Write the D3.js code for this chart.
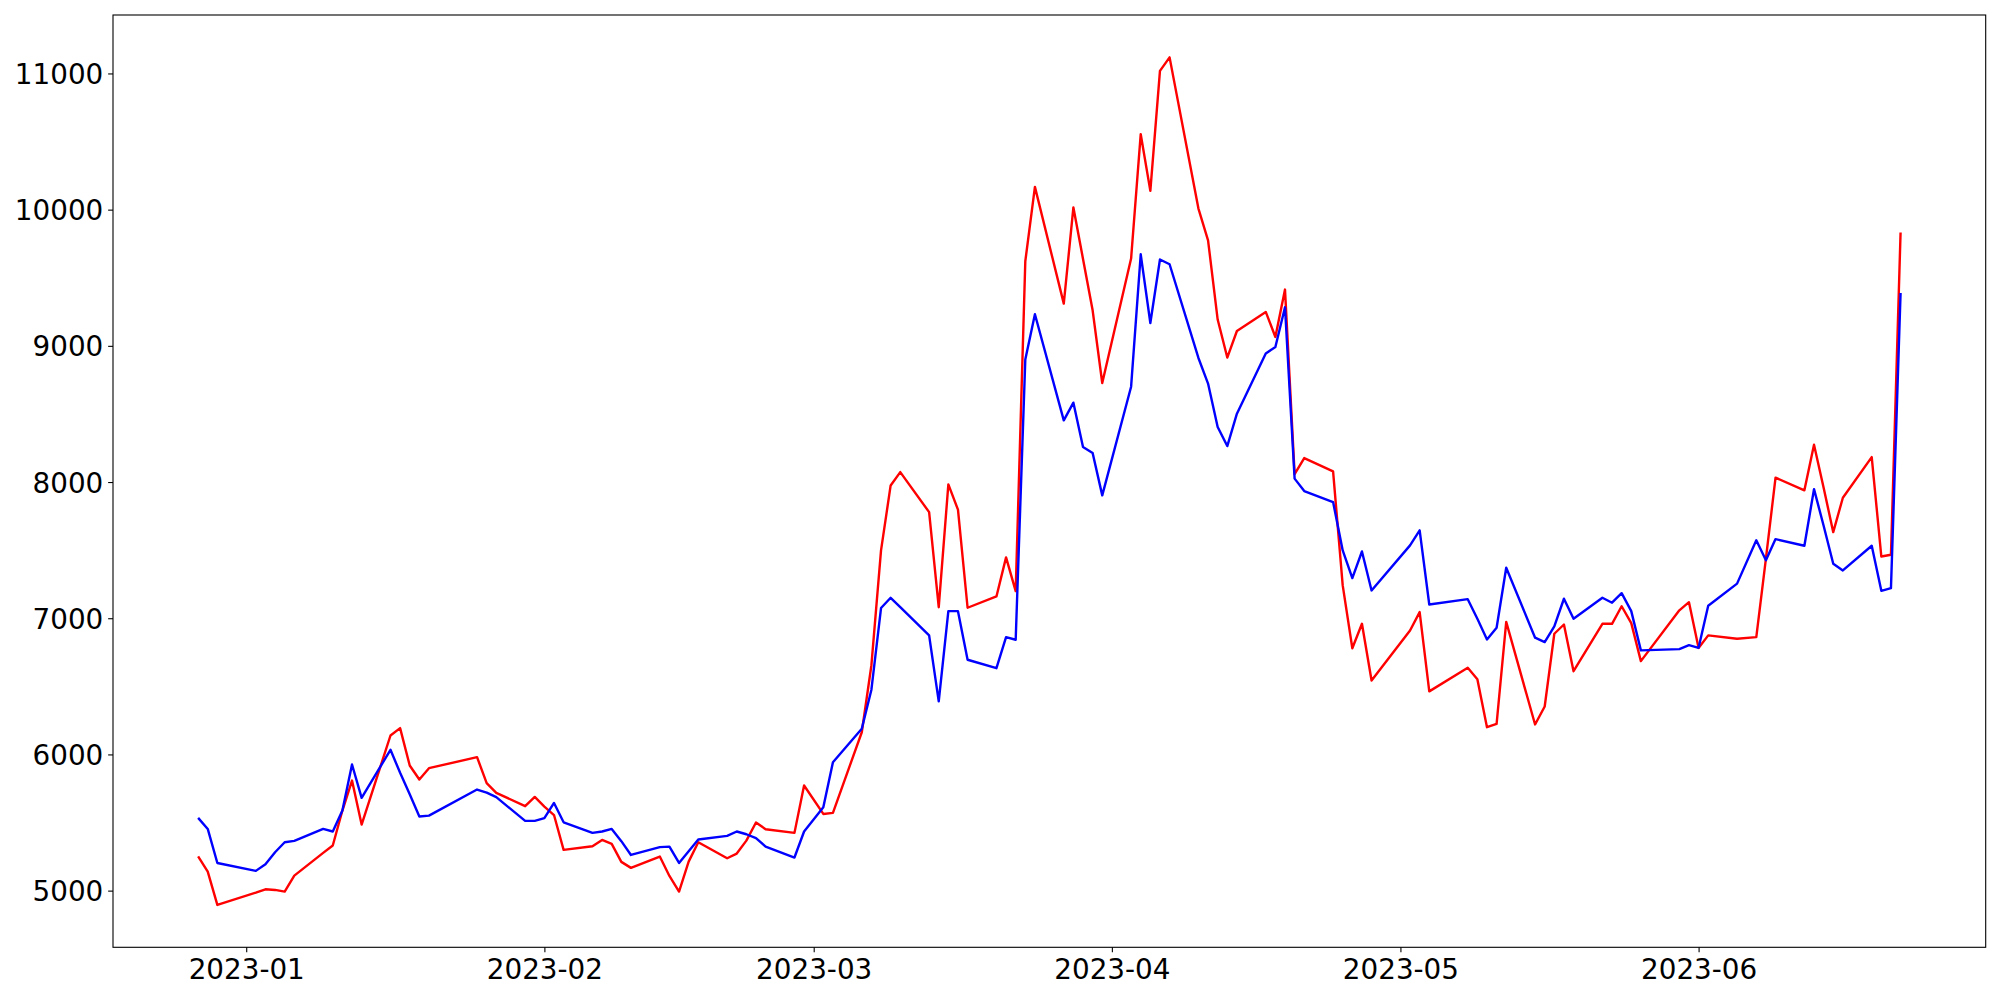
<html>
<head>
<script src="https://d3js.org/d3.v7.min.js"></script>
<style>
body { margin:0; background:#fff; }
</style>
</head>
<body>
<script>
// trading days (KRX calendar)
var dates = [
 "2022-12-27","2022-12-28","2022-12-29",
 "2023-01-02","2023-01-03","2023-01-04","2023-01-05","2023-01-06",
 "2023-01-09","2023-01-10","2023-01-11","2023-01-12","2023-01-13",
 "2023-01-16","2023-01-17","2023-01-18","2023-01-19","2023-01-20",
 "2023-01-25","2023-01-26","2023-01-27","2023-01-30","2023-01-31",
 "2023-02-01","2023-02-02","2023-02-03","2023-02-06","2023-02-07",
 "2023-02-08","2023-02-09","2023-02-10","2023-02-13","2023-02-14",
 "2023-02-15","2023-02-16","2023-02-17","2023-02-20","2023-02-21",
 "2023-02-22","2023-02-23","2023-02-24","2023-02-27","2023-02-28",
 "2023-03-02","2023-03-03","2023-03-06","2023-03-07","2023-03-08",
 "2023-03-09","2023-03-10","2023-03-13","2023-03-14","2023-03-15",
 "2023-03-16","2023-03-17","2023-03-20","2023-03-21","2023-03-22",
 "2023-03-23","2023-03-24","2023-03-27","2023-03-28","2023-03-29",
 "2023-03-30","2023-03-31","2023-04-03","2023-04-04","2023-04-05",
 "2023-04-06","2023-04-07","2023-04-10","2023-04-11","2023-04-12",
 "2023-04-13","2023-04-14","2023-04-17","2023-04-18","2023-04-19",
 "2023-04-20","2023-04-21","2023-04-24","2023-04-25","2023-04-26",
 "2023-04-27","2023-04-28","2023-05-02","2023-05-03","2023-05-04",
 "2023-05-08","2023-05-09","2023-05-10","2023-05-11","2023-05-12",
 "2023-05-15","2023-05-16","2023-05-17","2023-05-18","2023-05-19",
 "2023-05-22","2023-05-23","2023-05-24","2023-05-25","2023-05-26",
 "2023-05-30","2023-05-31","2023-06-01","2023-06-02","2023-06-05",
 "2023-06-07","2023-06-08","2023-06-09","2023-06-12","2023-06-13",
 "2023-06-14","2023-06-15","2023-06-16","2023-06-19","2023-06-20",
 "2023-06-21","2023-06-22"
];

var redValues = [
 5252,5140,4895,
 4985,5010,5005,4993,5110,
 5277,5331,5588,5808,5485,
 6139,6193,5919,5816,5899,
 5980,5789,5718,5620,5688,
 5617,5555,5299,5326,5372,
 5343,5211,5167,5250,5108,
 4993,5213,5355,5238,5272,
 5367,5500,5451,5424,5772,
 5563,5571,6163,6655,7498,
 7975,8073,7779,7081,7983,
 7797,7077,7160,7447,7199,
 9621,10167,9310,10016,9638,
 9261,8727,9641,10554,10138,
 11019,11118,10008,9775,9193,
 8914,9109,9249,9065,9413,
 8058,8176,8078,7241,6780,
 6959,6543,6910,7045,6463,
 6636,6552,6200,6225,6973,
 6220,6352,6886,6954,6611,
 6959,6959,7088,6964,6685,
 7058,7118,6782,6874,6849,
 6861,7437,8032,7939,8274,
 7958,7632,7885,8183,7453,
 7466,9832
];

var blueValues = [
 5534,5453,5203,
 5145,5194,5282,5355,5365,
 5453,5434,5588,5926,5681,
 6034,5865,5708,5544,5551,
 5742,5720,5686,5512,5512,
 5532,5644,5502,5424,5434,
 5453,5363,5262,5319,5323,
 5203,5289,5375,5402,5434,
 5414,5385,5323,5243,5434,
 5612,5943,6188,6475,7075,
 7150,7081,6874,6390,7052,
 7052,6695,6633,6861,6842,
 8900,9232,8453,8583,8257,
 8213,7902,8700,9672,9168,
 9634,9599,8911,8723,8404,
 8264,8502,8943,8992,9283,
 8025,7934,7853,7498,7295,
 7490,7204,7535,7645,7101,
 7140,6996,6844,6930,7371,
 6857,6825,6940,7143,6996,
 7150,7114,7184,7052,6764,
 6773,6802,6783,7092,7254,
 7572,7425,7581,7532,7948,
 7679,7400,7351,7532,7201,
 7221,9388
];

var yTicks = [5000, 6000, 7000, 8000, 9000, 10000, 11000];
var xTicks = ["2023-01-01","2023-02-01","2023-03-01","2023-04-01","2023-05-01","2023-06-01"];

var width = 2000;
var height = 1000;
var margin = {top:15, right:14.3, bottom:52.7, left:113};
var w = width - margin.left - margin.right;
var h = height - margin.top - margin.bottom;
var fontSize = 27.8;
var tickLen = 4.86;

var parseDate = d3.utcParse("%Y-%m-%d");
var data = dates.map(function(d, i) {
    return {date: parseDate(d), red: redValues[i], blue: blueValues[i]};
});

// matplotlib style 5% margins
var xExt = d3.extent(data, function(d) { return d.date; });
var xPad = (xExt[1] - xExt[0]) * 0.05;
var x = d3.scaleUtc()
    .domain([new Date(+xExt[0] - xPad), new Date(+xExt[1] + xPad)])
    .range([0, w]);

var yMin = d3.min(data, function(d) { return Math.min(d.red, d.blue); });
var yMax = d3.max(data, function(d) { return Math.max(d.red, d.blue); });
var yPad = (yMax - yMin) * 0.05;
var y = d3.scaleLinear()
    .domain([yMin - yPad, yMax + yPad])
    .range([h, 0]);

var svg = d3.select("body").append("svg")
    .attr("width", width)
    .attr("height", height)
    .style("display", "block")
    .append("g")
    .attr("transform", "translate(" + margin.left + "," + margin.top + ")");

var lineRed = d3.line()
    .x(function(d) { return x(d.date); })
    .y(function(d) { return y(d.red); });
var lineBlue = d3.line()
    .x(function(d) { return x(d.date); })
    .y(function(d) { return y(d.blue); });

svg.append("path")
    .datum(data)
    .attr("fill", "none")
    .attr("stroke", "red")
    .attr("stroke-width", 2.4)
    .attr("stroke-linejoin", "round")
    .attr("d", lineRed);

svg.append("path")
    .datum(data)
    .attr("fill", "none")
    .attr("stroke", "blue")
    .attr("stroke-width", 2.4)
    .attr("stroke-linejoin", "round")
    .attr("d", lineBlue);

var xAxis = d3.axisBottom(x)
    .tickValues(xTicks.map(parseDate))
    .tickFormat(d3.utcFormat("%Y-%m"))
    .tickSize(tickLen)
    .tickPadding(7.4);

var gx = svg.append("g")
    .attr("transform", "translate(0," + h + ")")
    .call(xAxis);
gx.select(".domain").remove();
gx.selectAll("line").attr("stroke", "black").attr("stroke-width", 1.1);
gx.selectAll("text")
    .attr("fill", "black")
    .style("font-family", "'DejaVu Sans'")
    .style("font-size", fontSize + "px");

var yAxis = d3.axisLeft(y)
    .tickValues(yTicks)
    .tickFormat(d3.format("d"))
    .tickSize(tickLen)
    .tickPadding(4.86);

var gy = svg.append("g")
    .call(yAxis);
gy.select(".domain").remove();
gy.selectAll("line").attr("stroke", "black").attr("stroke-width", 1.1);
gy.selectAll("text")
    .attr("fill", "black")
    .attr("dy", "0.36em")
    .style("font-family", "'DejaVu Sans'")
    .style("font-size", fontSize + "px");

// frame
svg.append("rect")
    .attr("x", 0)
    .attr("y", 0)
    .attr("width", w)
    .attr("height", h)
    .attr("fill", "none")
    .attr("stroke", "black")
    .attr("stroke-width", 1.1);
</script>
</body>
</html>
